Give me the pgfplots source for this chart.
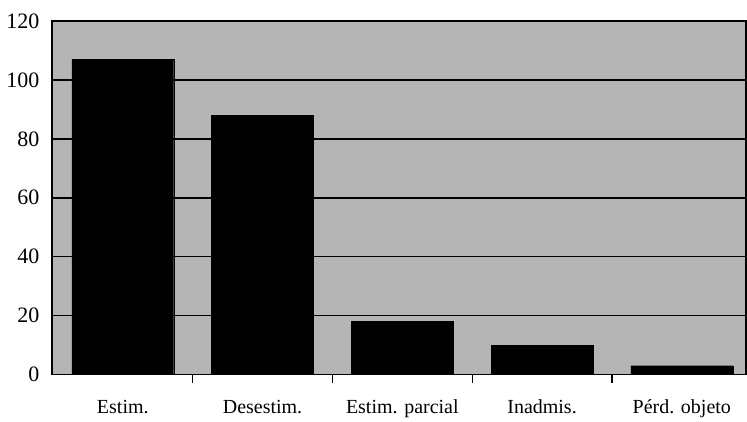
\documentclass[border=0pt]{standalone}
\usepackage{pgfplots}
\pgfplotsset{compat=1.18}
\usepackage{fontspec}
\setmainfont{Liberation Serif}

\begin{document}
\begin{tikzpicture}
\begin{axis}[
	scale only axis,
	width=695pt, height=354pt,
	xmin=-0.507, xmax=4.46,
	ymin=0, ymax=120,
	ytick={0,20,...,120},
	yticklabel={\fontsize{22}{24}\selectfont\pgfmathprintnumber{\tick}},
	xtick={0.5,1.5,2.5,3.5},
	xticklabels={},
	x tick style={black, line width=1.2pt},
	major tick length=8pt,
	xtick pos=bottom, xtick align=inside,
	extra x ticks={0,1,2,3,4},
	extra x tick labels={Estim., Desestim., Estim. parcial, Inadmis., Pérd. objeto},
	extra x tick style={major tick length=0pt, xticklabel style={yshift=-22pt}},
	ymajorgrids,
	major grid style={black, line width=1.6pt},
	ytick style={draw=none},
	axis line style={black, line width=1.8pt},
	axis background/.style={fill=gray!58},
	xticklabel style={font=\fontsize{20}{22}\selectfont},
	yticklabel style={xshift=-9pt},
	/pgf/number format/assume math mode=true,
	ybar, bar width=102pt,
]
\addplot[fill=black, draw=black] coordinates {
	(0,107) (1,88) (2,18) (3,10) (4,3)
};
\end{axis}
\path (current axis.north west) -- ++(-52pt,21pt);
\end{tikzpicture}
\end{document}
